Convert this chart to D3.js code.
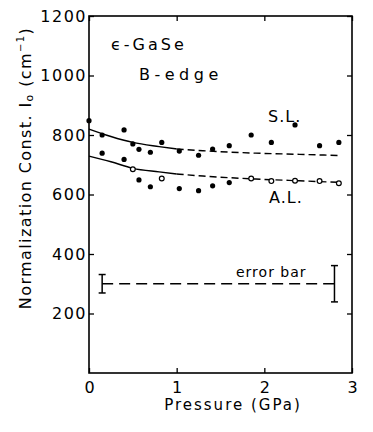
<!DOCTYPE html>
<html>
<head>
<meta charset="utf-8" />
<title>GaSe B-edge normalization constant</title>
<style>
body {
	margin: 0;
	background: #fff;
}

text {
	font-family: "DejaVu Sans", sans-serif;
	fill: #000;
}
</style>
</head>
<body>
	<div id="chart"></div>
	<script src="https://d3js.org/d3.v7.min.js"></script>
	<script>
		(function(d3) {
			'use strict';

			// measured points, S.L. (filled dots)
			var pressureSL = [0, 0.15, 0.40, 0.50, 0.57, 0.70, 0.83, 1.03, 1.25, 1.41, 1.60, 1.85, 2.08, 2.35, 2.63, 2.85];
			var constSL = [848, 800, 817, 770, 752, 742, 775, 746, 732, 753, 764, 800, 775, 834, 764, 775];

			// measured points, A.L.
			var pressureALfilled = [0.15, 0.40, 0.57, 0.70, 1.03, 1.25, 1.41, 1.60];
			var constALfilled = [739, 718, 649, 626, 620, 613, 629, 640];
			var pressureALopen = [0.50, 0.83, 1.85, 2.08, 2.35, 2.63, 2.85];
			var constALopen = [685, 654, 654, 645, 646, 645, 638];

			// fitted curves (solid up to 1 GPa, dashed after)
			var fitP = [0, 0.25, 0.5, 0.8, 1.0, 1.3, 1.9, 2.4, 2.85];
			var fitSL = [820, 795, 775, 761, 753, 747, 739, 735, 731];
			var fitAL = [729, 710, 688, 676, 669, 662, 652, 646, 641];
			var solidEnd = 1.0;

			// error bar sample
			var errorBarP = [0.15, 2.8];
			var errorBarHalf = [31, 61];
			var errorBarLevel = 300;

			var xTicks = [0, 1, 2, 3];
			var yTicks = [200, 400, 600, 800, 1000, 1200];

			var width = 373;
			var height = 432;
			var left = 89, right = 352, top = 16, bottom = 373;

			var x = d3.scaleLinear().domain([0, 3]).range([left, right]);
			var y = d3.scaleLinear().domain([0, 1200]).range([bottom, top]);

			var svg = d3.select('#chart').append('svg')
					.attr('width', width).attr('height', height);

			svg.append('rect').attr('width', width).attr('height', height)
					.attr('fill', '#fff');

			// frame
			svg.append('rect').attr('x', left).attr('y', top)
					.attr('width', right - left).attr('height', bottom - top)
					.attr('fill', 'none').attr('stroke', '#000')
					.attr('stroke-width', 1.6);

			// axes with inward ticks
			var yAxis = svg.append('g').attr('transform', 'translate(' + left + ',0)')
					.call(d3.axisLeft(y).tickValues(yTicks).tickSize(-5)
							.tickPadding(2).tickFormat(d3.format('d')));
			var yAxisR = svg.append('g').attr('transform', 'translate(' + right + ',0)')
					.call(d3.axisRight(y).tickValues(yTicks).tickSize(-5)
							.tickFormat(''));
			var xAxis = svg.append('g').attr('transform', 'translate(0,' + bottom + ')')
					.call(d3.axisBottom(x).tickValues(xTicks).tickSize(-5)
							.tickPadding(9).tickFormat(d3.format('d')));
			var xAxisT = svg.append('g').attr('transform', 'translate(0,' + top + ')')
					.call(d3.axisTop(x).tickValues(xTicks).tickSize(-5)
							.tickFormat(''));

			[yAxis, yAxisR, xAxis, xAxisT].forEach(function(g) {
				g.select('.domain').remove();
				g.selectAll('line').attr('stroke', '#000').attr('stroke-width', 1.3);
			});
			yAxis.selectAll('text').attr('font-size', 16)
					.attr('font-family', '"DejaVu Sans", sans-serif')
					.attr('letter-spacing', 1.5);
			xAxis.selectAll('text').attr('font-size', 16)
					.attr('font-family', '"DejaVu Sans", sans-serif');

			// axis titles
			svg.append('text').attr('x', 233).attr('y', 410)
					.attr('text-anchor', 'middle').attr('font-size', 15)
					.attr('letter-spacing', 2).text('Pressure (GPa)');

			var ylab = svg.append('text')
					.attr('transform', 'translate(31,168) rotate(-90)')
					.attr('text-anchor', 'middle').attr('font-size', 16)
					.attr('letter-spacing', 1.4);
			ylab.append('tspan').text('Normalization Const. I');
			ylab.append('tspan').attr('font-size', 11).attr('dy', 2).text('o');
			ylab.append('tspan').attr('dy', -2).text(' (cm');
			ylab.append('tspan').attr('font-size', 10).attr('dy', -7).text('\u22121');
			ylab.append('tspan').attr('dy', 7).text(')');

			// fitted curves
			var line = d3.line().x(function(d) { return x(d[0]); })
					.y(function(d) { return y(d[1]); })
					.curve(d3.curveMonotoneX);

			function fitPoints(vals, from, to) {
				var pts = [];
				fitP.forEach(function(p, i) {
					if (p >= from && p <= to) pts.push([p, vals[i]]);
				});
				return pts;
			}

			[fitSL, fitAL].forEach(function(vals) {
				svg.append('path').datum(fitPoints(vals, 0, solidEnd))
						.attr('d', line).attr('fill', 'none')
						.attr('stroke', '#000').attr('stroke-width', 1.4);
				svg.append('path').datum(fitPoints(vals, solidEnd, 3))
						.attr('d', line).attr('fill', 'none')
						.attr('stroke', '#000').attr('stroke-width', 1.4)
						.attr('stroke-dasharray', '7,4');
			});

			// data markers
			svg.selectAll('.sl').data(d3.zip(pressureSL, constSL)).enter()
					.append('circle').attr('class', 'sl')
					.attr('cx', function(d) { return x(d[0]); })
					.attr('cy', function(d) { return y(d[1]); })
					.attr('r', 2.6).attr('fill', '#000');

			svg.selectAll('.alf').data(d3.zip(pressureALfilled, constALfilled)).enter()
					.append('circle').attr('class', 'alf')
					.attr('cx', function(d) { return x(d[0]); })
					.attr('cy', function(d) { return y(d[1]); })
					.attr('r', 2.6).attr('fill', '#000');

			svg.selectAll('.alo').data(d3.zip(pressureALopen, constALopen)).enter()
					.append('circle').attr('class', 'alo')
					.attr('cx', function(d) { return x(d[0]); })
					.attr('cy', function(d) { return y(d[1]); })
					.attr('r', 2.4).attr('fill', '#fff')
					.attr('stroke', '#000').attr('stroke-width', 1.2);

			// error bar
			svg.append('line')
					.attr('x1', x(errorBarP[0])).attr('x2', x(errorBarP[1]))
					.attr('y1', y(errorBarLevel)).attr('y2', y(errorBarLevel))
					.attr('stroke', '#000').attr('stroke-width', 1.3)
					.attr('stroke-dasharray', '11,6');
			errorBarP.forEach(function(p, i) {
				var g = svg.append('g');
				var hi = y(errorBarLevel + errorBarHalf[i]);
				var lo = y(errorBarLevel - errorBarHalf[i]);
				g.append('line').attr('x1', x(p)).attr('x2', x(p))
						.attr('y1', hi).attr('y2', lo)
						.attr('stroke', '#000').attr('stroke-width', 1.5);
				[hi, lo].forEach(function(v) {
					g.append('line').attr('x1', x(p) - 3.5).attr('x2', x(p) + 3.5)
							.attr('y1', v).attr('y2', v)
							.attr('stroke', '#000').attr('stroke-width', 1.5);
				});
			});
			svg.append('text').attr('x', 236).attr('y', 277)
					.attr('font-size', 14).attr('letter-spacing', 1)
					.text('error bar');

			// annotations
			svg.append('text').attr('x', 111).attr('y', 50)
					.attr('font-size', 16).attr('letter-spacing', 3)
					.text('\u03f5-GaSe');
			svg.append('text').attr('x', 139).attr('y', 80)
					.attr('font-size', 16).attr('letter-spacing', 4.5)
					.text('B-edge');
			svg.append('text').attr('x', 268).attr('y', 122)
					.attr('font-size', 16).attr('letter-spacing', 1)
					.text('S.L.');
			svg.append('text').attr('x', 269).attr('y', 203)
					.attr('font-size', 16).attr('letter-spacing', 1)
					.text('A.L.');

		})(window.d3);
	</script>
</body>
</html>
